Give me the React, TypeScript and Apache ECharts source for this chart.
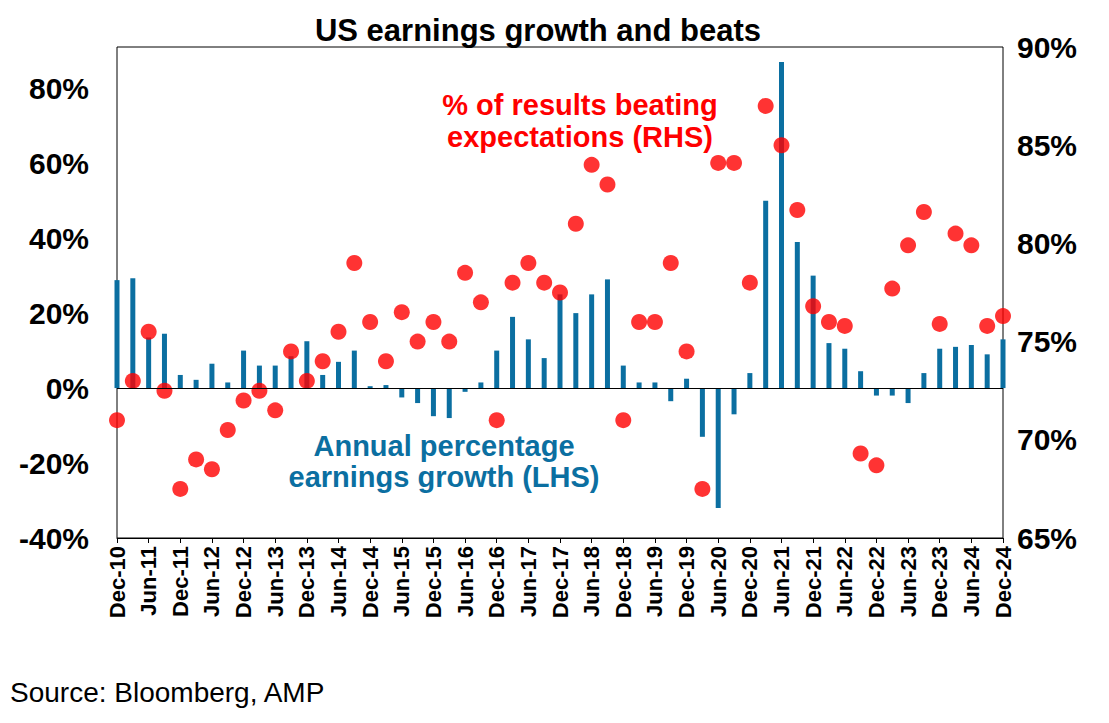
import { useEffect, useRef } from "react";
import * as echarts from "echarts";

const years = [10, 11, 12, 13, 14, 15, 16, 17, 18, 19, 20, 21, 22, 23, 24];
const quarters: string[] = ["Dec-10"];
years.slice(1).forEach((y) => {
  ["Mar", "Jun", "Sep", "Dec"].forEach((m) => quarters.push(`${m}-${y}`));
});

const growth = [
  28.8, 29.3, 13.5, 14.5, 3.5, 2.2, 6.5, 1.5, 10, 6, 6, 8.5, 12.5, 3.5, 7, 10,
  0.5, 0.8, -2.5, -4, -7.5, -8, -1, 1.5, 10, 19, 13, 8, 25, 20, 25, 29, 6, 1.5,
  1.5, -3.5, 2.5, -13, -32, -7, 4, 50, 87, 39, 30, 12, 10.5, 4.5, -2, -2, -4, 4,
  10.5, 11, 11.5, 9, 13,
];

const beats = [
  71, 73, 75.5, 72.5, 67.5, 69, 68.5, 70.5, 72, 72.5, 71.5, 74.5, 73, 74, 75.5,
  79, 76, 74, 76.5, 75, 76, 75, 78.5, 77, 71, 78, 79, 78, 77.5, 81, 84, 83, 71,
  76, 76, 79, 74.5, 67.5, 84.1, 84.1, 78, 87, 85, 81.7, 76.8, 76, 75.8, 69.3,
  68.7, 77.7, 79.9, 81.6, 75.9, 80.5, 79.9, 75.8, 76.3,
];

const FONT = "Liberation Sans, Arial, sans-serif";

export default function App() {
  const ref = useRef<HTMLDivElement>(null);

  useEffect(() => {
    if (!ref.current) return;
    const chart = echarts.init(ref.current, null, { renderer: "svg" });
    chart.setOption({
      animation: false,
      textStyle: { fontFamily: FONT },
      grid: {
        left: 117,
        right: 106,
        top: 47,
        bottom: 185,
        show: true,
        borderColor: "#000",
        borderWidth: 1,
      },
      xAxis: {
        type: "category",
        data: quarters,
        boundaryGap: false,
        axisLine: { onZero: false, lineStyle: { color: "#000" } },
        axisTick: { show: true, interval: 1, lineStyle: { color: "#000" } },
        axisLabel: {
          interval: 1,
          rotate: 90,
          color: "#000",
          fontWeight: "bold",
          fontSize: 22,
          fontFamily: FONT,
        },
      },
      yAxis: [
        {
          type: "value",
          min: -40,
          max: 91,
          interval: 20,
          splitLine: { show: false },
          axisLine: { show: false },
          axisLabel: {
            formatter: "{value}%",
            color: "#000",
            fontWeight: "bold",
            fontSize: 30,
            margin: 28,
            showMaxLabel: false,
            fontFamily: FONT,
          },
        },
        {
          type: "value",
          min: 65,
          max: 90,
          interval: 5,
          splitLine: { show: false },
          axisLine: { show: false },
          axisLabel: {
            formatter: "{value}%",
            color: "#000",
            fontWeight: "bold",
            fontSize: 30,
            margin: 14,
            fontFamily: FONT,
          },
        },
      ],
      series: [
        {
          type: "bar",
          data: growth,
          barWidth: 5,
          itemStyle: { color: "#0b6fa1" },
          markLine: {
            silent: true,
            symbol: "none",
            label: { show: false },
            lineStyle: { color: "#000", width: 1, type: "solid" },
            data: [{ yAxis: 0 }],
          },
        },
        {
          type: "scatter",
          yAxisIndex: 1,
          data: beats,
          symbolSize: 16,
          itemStyle: { color: "#ff0000" },
        },
      ],
      graphic: [
        {
          type: "text",
          x: 538,
          y: 30,
          style: {
            text: "US earnings growth and beats",
            font: `bold 31px ${FONT}`,
            fill: "#000",
            align: "center",
            verticalAlign: "middle",
          },
        },
        {
          type: "text",
          x: 580,
          y: 121,
          style: {
            text: "% of results beating\nexpectations (RHS)",
            font: `bold 29px ${FONT}`,
            fill: "#ff0000",
            align: "center",
            verticalAlign: "middle",
            lineHeight: 32,
          },
        },
        {
          type: "text",
          x: 444,
          y: 461,
          style: {
            text: "Annual percentage\nearnings growth (LHS)",
            font: `bold 29px ${FONT}`,
            fill: "#0b6fa1",
            align: "center",
            verticalAlign: "middle",
            lineHeight: 31,
          },
        },
        {
          type: "text",
          left: 10,
          top: 678,
          style: { text: "Source: Bloomberg, AMP", font: `28px ${FONT}`, fill: "#000" },
        },
      ],
    });
    return () => chart.dispose();
  }, []);

  return <div ref={ref} style={{ width: 1109, height: 723, margin: -8, background: "#fff" }} />;
}
